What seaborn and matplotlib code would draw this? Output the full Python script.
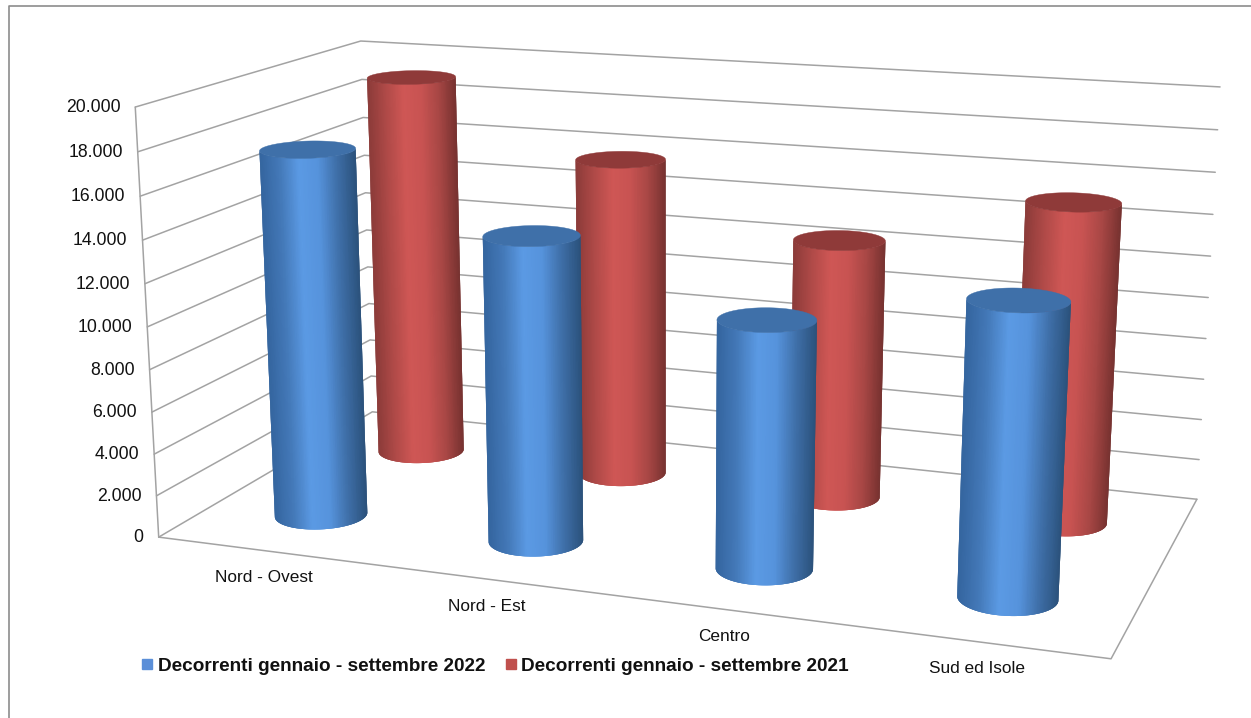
import numpy as np
import matplotlib
matplotlib.use("Agg")
import matplotlib.pyplot as plt
from matplotlib.collections import PolyCollection
from matplotlib.lines import Line2D
from matplotlib.patches import Polygon
import seaborn as sns

# --- DATA ---
categories = ["Nord - Ovest", "Nord - Est", "Centro", "Sud ed Isole"]
series_names = ["Decorrenti gennaio - settembre 2022", "Decorrenti gennaio - settembre 2021"]
values_2022 = [17500, 14300, 11400, 13200]
values_2021 = [19200, 15800, 12650, 15250]
y_ticks = [0, 2000, 4000, 6000, 8000, 10000, 12000, 14000, 16000, 18000, 20000]
y_max = 20000

# --- STYLE ---
sns.set_theme(style="white")
plt.rcParams["font.family"] = ["Liberation Sans", "DejaVu Sans"]

GRID = "#a3a3a3"
FRAME = "#8c8c8c"
TEXT = "#111111"
blue_side = sns.blend_palette(["#34659f", "#4479b8", "#5b9ae4", "#5693dc", "#3f6fa8", "#2b527c"], 128)
red_side = sns.blend_palette(["#8c3b39", "#b04a48", "#cf5755", "#c85352", "#a84745", "#773230"], 128)
blue_top, red_top = "#3f70a9", "#8f3a39"
blue_key, red_key = "#5b8fd8", "#c0504d"

# --- 3D BOX -> SCREEN PROJECTION ---
# box corners (cat, depth, height in 0-1) matched to where they sit on the canvas
box = np.array([[0, 0, 0], [1, 0, 0], [1, 1, 0], [0, 1, 0], [0, 0, 1], [0, 1, 1], [1, 1, 1]], float)
canvas = np.array([[159, 537], [1111, 659], [1197, 499], [372, 412], [135, 107], [361, 41], [1220, 87]], float)

rows = []
for (x, y, z), (u, v) in zip(box, canvas):
    rows.append([x, y, z, 1, 0, 0, 0, 0, -u * x, -u * y, -u * z, -u])
    rows.append([0, 0, 0, 0, x, y, z, 1, -v * x, -v * y, -v * z, -v])
P = np.linalg.svd(np.array(rows))[2][-1].reshape(3, 4)


def project(x, y, z):
    x, y, z = np.broadcast_arrays(x, y, z)
    h = P @ np.vstack([x.ravel(), y.ravel(), z.ravel(), np.ones(x.size)])
    return np.column_stack([h[0] / h[2], h[1] / h[2]])


fig = plt.figure(figsize=(12.51, 7.18), dpi=100)
ax = fig.add_axes([0, 0, 1, 1])
ax.set_xlim(0, 1251)
ax.set_ylim(718, 0)
ax.axis("off")

# chart frame
ax.plot([9, 9, 1251], [718, 6, 6], color=FRAME, lw=1.2, zorder=1)

# walls and floor
for tick in y_ticks:
    z = tick / y_max
    pts = project([0, 0, 1], [0, 1, 1], z)
    ax.plot(pts[:, 0], pts[:, 1], color=GRID, lw=1.1, zorder=1)
    px, py = project(0, 0, z)[0]
    ax.text(px - 15, py + 0.5, f"{tick:,}".replace(",", "."), ha="right", va="center",
            fontsize=12.7, color=TEXT)

edge = project([0, 0], [0, 0], [0, 1])
ax.plot(edge[:, 0], edge[:, 1], color=GRID, lw=1.1, zorder=1)
floor = project([0, 1, 1], [0, 0, 1], 0)
ax.plot(floor[:, 0], floor[:, 1], color=GRID, lw=1.1, zorder=1)

# category labels under the front edge
for i, name in enumerate(categories):
    px, py = project((i + 0.5) / 4, 0, 0)[0]
    ax.text(px - 0.5, py + 27, name, ha="center", va="center", fontsize=12.4, color=TEXT)

# --- CYLINDERS ---
RX, RY = 0.049, 0.10
N_ARC = 720
N_STRIP = 120


def front_arc(ring):
    # part of the ring nearest the viewer, from left silhouette point to right one
    i_left, i_right = ring[:, 0].argmin(), ring[:, 0].argmax()
    idx = np.arange(i_left, i_right + N_ARC + 1) % N_ARC
    idx = idx[: (i_right - i_left) % N_ARC + 1]
    arc = ring[idx]
    if arc[:, 1].mean() < ring[:, 1].mean():  # went round the back, take the other way
        idx = np.arange(i_right, i_left + N_ARC + 1) % N_ARC
        idx = idx[: (i_left - i_right) % N_ARC + 1][::-1]
        arc = ring[idx]
    pick = np.linspace(0, len(arc) - 1, N_STRIP + 1).round().astype(int)
    return arc[pick]


def cylinder(cx, cy, value, side, top, zorder):
    theta = np.linspace(0, 2 * np.pi, N_ARC, endpoint=False)
    xs = cx + RX * np.cos(theta)
    ys = cy + RY * np.sin(theta)
    low = project(xs, ys, 0)
    high = project(xs, ys, value / y_max)
    low_arc, high_arc = front_arc(low), front_arc(high)
    left, right = low_arc[0, 0], low_arc[-1, 0]
    # each band runs a little under the next one, so no seams show
    bands, cols = [], []
    for k in range(N_STRIP):
        bands.append(np.vstack([low_arc[k:k + 4], high_arc[k:k + 4][::-1]]))
        f = (low_arc[k, 0] - left) / (right - left)
        cols.append(side[int(np.clip(f, 0, 0.999) * len(side))])
    ax.add_collection(PolyCollection(bands, facecolors=cols, edgecolors="none", zorder=zorder))
    ax.add_patch(Polygon(high, closed=True, facecolor=top, edgecolor=top, linewidth=0.3, zorder=zorder + 0.5))


for i, value in enumerate(values_2021):
    cylinder((i + 0.5) / 4, 0.75, value, red_side, red_top, 3 + i * 0.01)
for i, value in enumerate(values_2022):
    cylinder((i + 0.5) / 4, 0.25, value, blue_side, blue_top, 5 + i * 0.01)

# --- LEGEND ---
handles = [
    Line2D([], [], linestyle="none", marker="s", markersize=7.0, color=blue_key, label=series_names[0]),
    Line2D([], [], linestyle="none", marker="s", markersize=7.0, color=red_key, label=series_names[1]),
]
ax.legend(handles=handles, ncol=2, loc="center left", bbox_to_anchor=(0.1125, 0.0725), frameon=False,
          prop={"size": 13.68, "weight": "bold"}, labelcolor=TEXT, handlelength=0.7, handletextpad=0.2,
          columnspacing=1.0, borderpad=0, borderaxespad=0)

plt.savefig("out.png", dpi=100)
plt.close()
